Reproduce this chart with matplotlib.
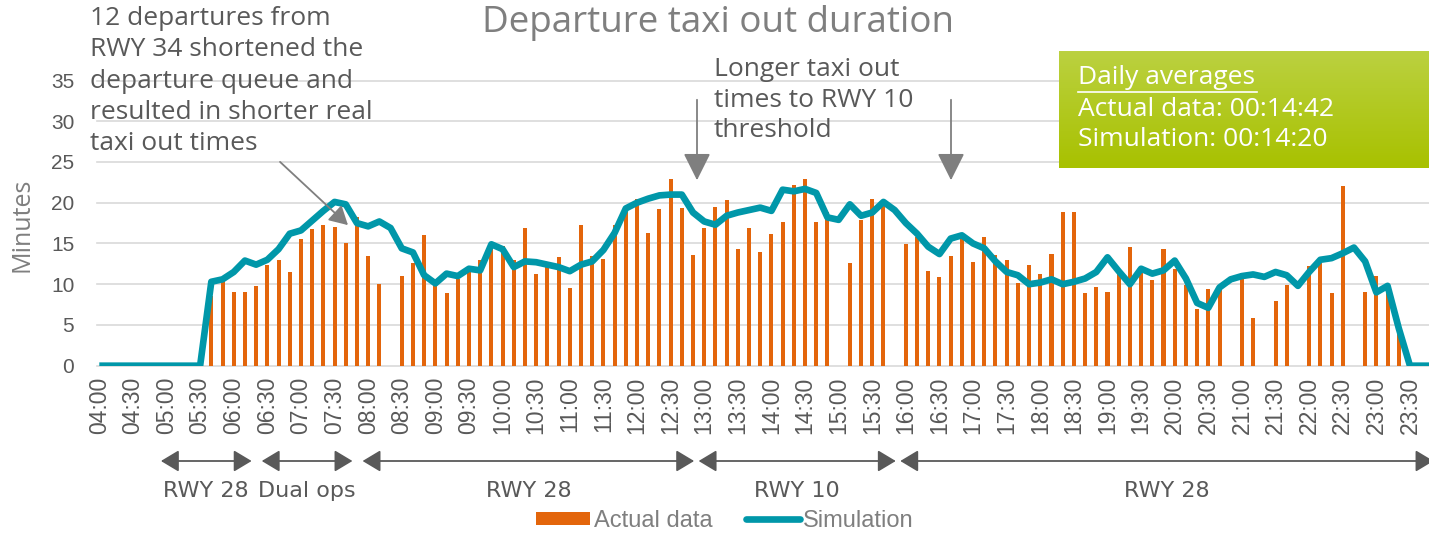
import numpy as np
import matplotlib.pyplot as plt
from matplotlib.patches import Patch
from matplotlib.lines import Line2D

# 10 minute bins, 04:00 .. 23:50
times = ['%02d:%02d' % (h, m) for h in range(4, 24) for m in range(0, 60, 10)]

actual = [0, 0, 0, 0, 0, 0, 0, 0, 0, 0,
          8.5, 10.9, 9.0, 9.1, 9.8, 12.4, 13.0, 11.5, 15.5, 16.8,
          17.3, 17.0, 15.1, 18.3, 13.5, 10.0, 0, 11.0, 12.6, 16.0,
          10.0, 8.9, 10.7, 11.5, 13.0, 15.2, 14.7, 13.0, 16.9, 11.3,
          12.1, 13.3, 9.5, 17.3, 13.5, 13.1, 17.3, 18.9, 20.4, 16.3,
          19.2, 22.9, 19.4, 13.6, 16.9, 19.5, 20.3, 14.3, 16.9, 14.0,
          16.2, 17.6, 22.2, 22.9, 17.6, 18.9, 0, 12.6, 17.9, 20.4,
          20.3, 0, 14.9, 15.8, 11.6, 10.9, 13.5, 15.5, 12.7, 15.8,
          13.6, 13.0, 10.2, 12.3, 11.3, 13.7, 18.9, 18.9, 8.9, 9.6,
          9.1, 11.7, 14.6, 11.4, 10.5, 14.3, 11.9, 9.9, 6.9, 9.4,
          9.3, 0, 11.4, 5.9, 0, 7.9, 9.9, 0, 12.2, 12.6,
          8.9, 22.0, 0, 9.0, 11.0, 10.0, 4.0, 0, 0, 0]

simulation = [0, 0, 0, 0, 0, 0, 0, 0, 0, 0,
              10.3, 10.6, 11.5, 12.9, 12.4, 13.0, 14.3, 16.2, 16.6, 17.8,
              19.0, 20.1, 19.8, 17.5, 17.1, 17.7, 16.9, 14.4, 13.9, 11.1,
              10.1, 11.3, 11.0, 11.9, 11.7, 14.9, 14.3, 12.1, 12.8, 12.7,
              12.4, 12.1, 11.6, 12.4, 12.8, 14.2, 16.3, 19.3, 20.0, 20.5,
              20.9, 21.0, 21.0, 18.8, 17.7, 17.3, 18.4, 18.8, 19.1, 19.4,
              19.0, 21.6, 21.4, 21.7, 21.2, 18.2, 17.9, 19.8, 18.4, 18.8,
              20.1, 19.1, 17.5, 16.2, 14.6, 13.7, 15.6, 16.0, 15.0, 14.4,
              12.8, 11.5, 11.1, 10.0, 10.2, 10.6, 10.0, 10.3, 10.7, 11.5,
              13.3, 11.6, 10.0, 11.9, 11.3, 11.7, 12.9, 10.7, 7.7, 7.1,
              9.6, 10.6, 11.0, 11.2, 10.9, 11.5, 11.1, 9.8, 11.5, 13.0,
              13.2, 13.8, 14.5, 12.8, 9.0, 9.8, 4.6, 0, 0, 0]

# runway periods (start, end as category times) and labels
rwy_start = ['05:00', '06:30', '08:00', '13:00', '16:00']
rwy_end = ['06:20', '07:50', '12:55', '15:55', '23:55']
rwy_labels = ['RWY 28', 'Dual ops', 'RWY 28', 'RWY 10', 'RWY 28']

W, H = 1429, 535
ORANGE = '#e3650b'
TEAL = '#0097a9'
GREY = '#595959'
LGREY = '#7f7f7f'
SANS = ['Open Sans', 'DejaVu Sans']
ARIAL = ['Liberation Sans', 'DejaVu Sans']


def px(x, y):
    return x / W, 1 - y / H


def tpos(t):
    h, m = t.split(':')
    return ((int(h) - 4) * 60 + int(m)) / 10.0


fig = plt.figure(figsize=(W / 100, H / 100), dpi=100)
ax = fig.add_axes([96.5 / W, (H - 365.7) / H, (W - 96.5) / W, (365.7 - 80.5) / H])

x = np.arange(len(times))
ax.bar(x, actual, width=0.36, color=ORANGE, zorder=2)
ax.plot(x, simulation, color=TEAL, lw=4.8, solid_joinstyle='round',
        solid_capstyle='butt', zorder=3)

ax.set_xlim(-0.25, 118.7)
ax.set_ylim(0, 35)
ax.set_yticks(range(0, 36, 5))
ax.set_xticks(x[::3])
ax.set_xticklabels(times[::3], rotation=90, family=ARIAL, fontsize=16.5, color=GREY)
for lab in ax.get_yticklabels():
    lab.set_family(ARIAL)
    lab.set_fontsize(15)
    lab.set_color(GREY)
ax.tick_params(axis='both', length=0)
ax.tick_params(axis='y', pad=16)
ax.tick_params(axis='x', pad=8)
ax.yaxis.grid(True, color='#d9d9d9', lw=1.2, zorder=0)
for gl in ax.get_ygridlines():
    gl.set_clip_on(False)
ax.set_axisbelow(True)
for s in ax.spines.values():
    s.set_visible(False)

fig.text(*px(22, 225), 'Minutes', rotation=90, ha='center', va='center',
         family=SANS, fontsize=18, color=LGREY)

fig.text(*px(718, 23), 'Departure taxi out duration', ha='center', va='center',
         family=SANS, fontsize=26.5, color=LGREY)

fig.text(*px(90, 6), '12 departures from\nRWY 34 shortened the\ndeparture queue and\n'
         'resulted in shorter real\ntaxi out times', ha='left', va='top',
         family=SANS, fontsize=19, color=GREY, linespacing=1.33)
ax.annotate('', xy=(350, H - 227), xycoords='figure pixels',
            xytext=(278, H - 160), textcoords='figure pixels',
            arrowprops=dict(arrowstyle='-|>,head_length=0.45,head_width=0.25',
                            color=LGREY, lw=1.3, mutation_scale=25))

fig.text(*px(714, 57), 'Longer taxi out\ntimes to RWY 10\nthreshold', ha='left', va='top',
         family=SANS, fontsize=19, color=GREY, linespacing=1.3)
for ax_x in (697, 951):
    ax.annotate('', xy=(ax_x, H - 183), xycoords='figure pixels',
                xytext=(ax_x, H - 97), textcoords='figure pixels',
                arrowprops=dict(arrowstyle='-|>,head_length=0.6,head_width=0.3',
                                color=LGREY, lw=1.3, mutation_scale=28))

# daily averages box
bax = fig.add_axes([1059 / W, (H - 168) / H, (W - 1059) / W, 117 / H])
grad = np.linspace(0, 1, 100).reshape(-1, 1)
top = np.array([0xbb, 0xd1, 0x40]) / 255
bot = np.array([0xa8, 0xc1, 0x00]) / 255
img = top[None, None, :] * (1 - grad[:, :, None]) + bot[None, None, :] * grad[:, :, None]
bax.imshow(img, aspect='auto', extent=[0, 1, 0, 1])
bax.set_axis_off()
fig.text(*px(1078, 78), 'Daily averages', ha='left', va='center',
         family=SANS, fontsize=19, color='white')
fig.add_artist(Line2D([1078 / W, 1257 / W], [1 - 92 / H, 1 - 92 / H], color='white', lw=1.2))
fig.text(*px(1078, 110), 'Actual data: 00:14:42', ha='left', va='center',
         family=SANS, fontsize=19, color='white')
fig.text(*px(1078, 140), 'Simulation: 00:14:20', ha='left', va='center',
         family=SANS, fontsize=19, color='white')

# runway periods
tr = ax.get_xaxis_transform()
y_arrow = (365.7 - 461) / (365.7 - 80.5)
y_lab = (365.7 - 491) / (365.7 - 80.5)
for s, e, lab in zip(rwy_start, rwy_end, rwy_labels):
    xs, xe = tpos(s) - 0.5, tpos(e) - 0.4
    ax.annotate('', xy=(xe, y_arrow), xycoords=tr, xytext=(xs, y_arrow), textcoords=tr,
                arrowprops=dict(arrowstyle='<|-|>,head_length=0.5,head_width=0.3',
                                color=GREY, lw=1.3, mutation_scale=22,
                                shrinkA=0, shrinkB=0), annotation_clip=False)
    ax.text((xs + xe) / 2, y_lab, lab, transform=tr, ha='center', va='center',
            family=['Liberation Sans Narrow', 'DejaVu Sans'], fontsize=16, color=GREY)

handles = [Patch(facecolor=ORANGE), Line2D([], [], color=TEAL, lw=4.8, solid_capstyle='round')]
fig.legend(handles, ['Actual data', 'Simulation'], loc='center',
           bbox_to_anchor=px(725, 521), ncol=2, frameon=False,
           prop=dict(family=ARIAL, size=17), labelcolor=LGREY,
           handlelength=2.3, handletextpad=0.15, columnspacing=1.4, handleheight=0.5)

fig.savefig('out.png', dpi=100)
